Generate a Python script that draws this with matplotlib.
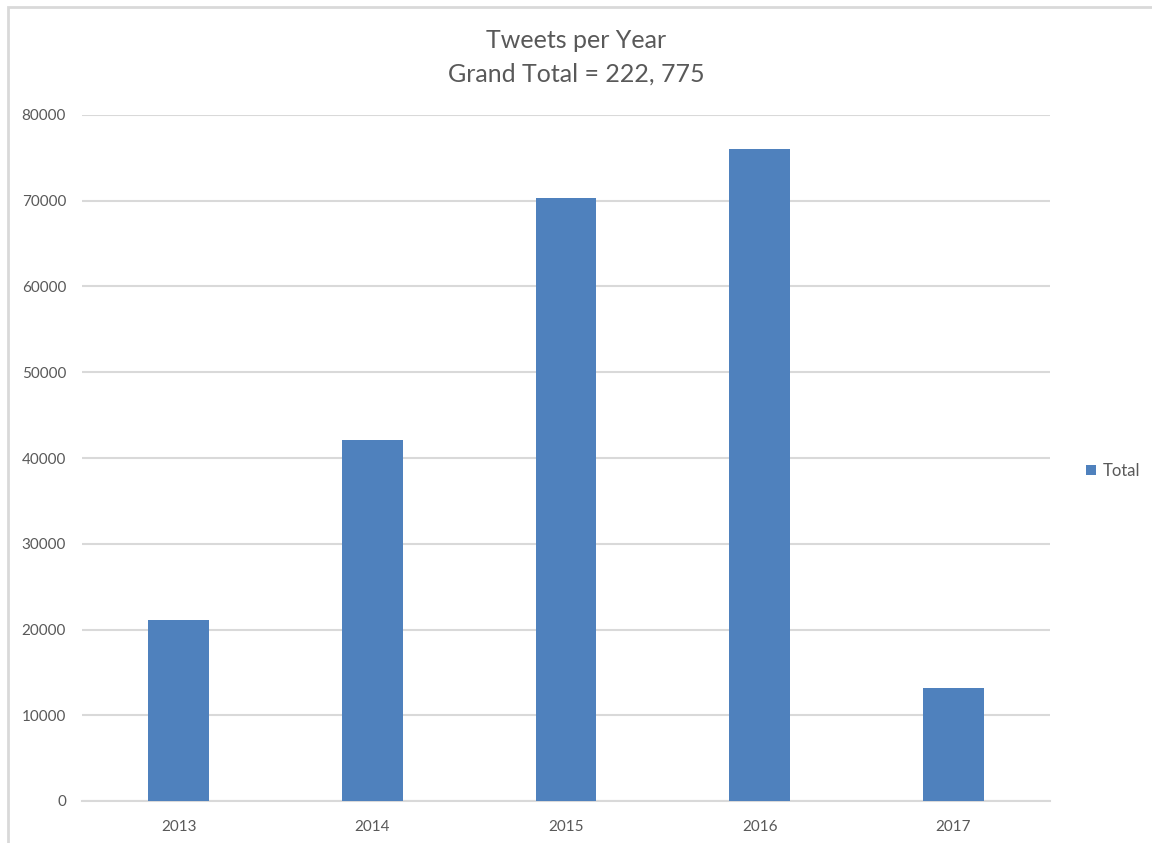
import matplotlib
matplotlib.use("Agg")
import matplotlib.pyplot as plt
from matplotlib.patches import Rectangle

years = ["2013", "2014", "2015", "2016", "2017"]
tweets = [21150, 42100, 70300, 76050, 13175]
y_ticks = [0, 10000, 20000, 30000, 40000, 50000, 60000, 70000, 80000]

bar_color = "#4f81bd"
grid_color = "#d9d9d9"
text_color = "#595959"

plt.rcParams["font.family"] = ["Lato", "DejaVu Sans"]

fig = plt.figure(figsize=(11.52, 8.43), dpi=100)
ax = fig.add_axes([82 / 1152, 1 - 801 / 843, 968 / 1152, 686 / 843])

# light frame around the chart area, like the spreadsheet export
fig.patches.append(Rectangle((8 / 1152, -0.01), 1.1, 1 - 7 / 843 + 0.01,
                             transform=fig.transFigure, fill=False,
                             edgecolor="#d9d9d9", linewidth=2))

ax.bar(years, tweets, width=0.315, color=bar_color, label="Total", zorder=3)

ax.set_xlim(-0.5, len(years) - 0.5)
ax.set_ylim(0, 80000)
ax.set_yticks(y_ticks)
ax.set_yticklabels([str(v) for v in y_ticks])
ax.yaxis.grid(True, color=grid_color, linewidth=1.5, zorder=0)
ax.set_axisbelow(True)

for side in ["top", "right", "left"]:
    ax.spines[side].set_visible(False)
ax.spines["bottom"].set_color(grid_color)
ax.spines["bottom"].set_linewidth(1.5)

ax.tick_params(axis="both", length=0, labelsize=11, labelcolor=text_color)
ax.tick_params(axis="y", pad=11.5)
ax.tick_params(axis="x", pad=14)

fig.text(0.5, 1 - 41 / 843, "Tweets per Year", ha="center", va="center",
         fontsize=18, color=text_color)
fig.text(0.5, 1 - 74 / 843, "Grand Total = 222, 775", ha="center", va="center",
         fontsize=18, color=text_color)

fig.legend(loc="center left", bbox_to_anchor=(1071 / 1152, 1 - 471 / 843),
           frameon=False, fontsize=12, labelcolor=text_color,
           handlelength=0.6, handleheight=0.6, handletextpad=0.4)

fig.savefig("out.png", dpi=100)
